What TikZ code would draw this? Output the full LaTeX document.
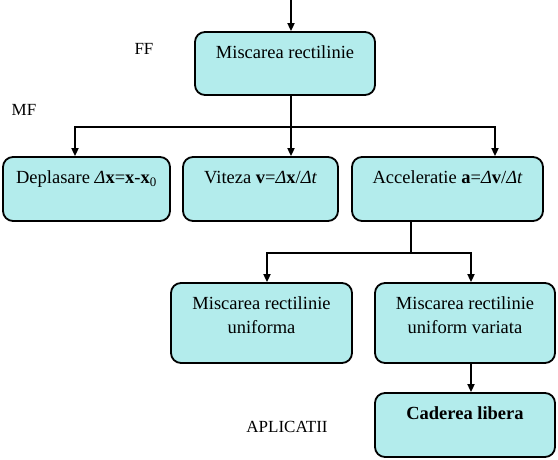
\documentclass[tikz,border=0pt]{standalone}
\usepackage{fontspec}
\setmainfont{Liberation Serif}
\usetikzlibrary{arrows.meta,positioning}
\definecolor{boxcyan}{RGB}{179,236,236}
\begin{document}
\begin{tikzpicture}[x=1pt,y=-1pt,line width=1.8pt,
  box/.style={draw,fill=boxcyan,rounded corners=10pt,inner sep=0pt},
  txt/.style={inner sep=0pt,align=center,font=\fontsize{18.5}{24}\selectfont},
  lbl/.style={inner sep=0pt,font=\fontsize{17}{20}\selectfont},
  arr/.style={-{Triangle[length=8pt,width=7pt]}}]
  \useasboundingbox (0,0) rectangle (558,460);
  \node[box,minimum width=180pt,minimum height=63pt] (mr) at (285,63.5) {};
  \node[box,minimum width=167pt,minimum height=64pt] (dep) at (86.5,189) {};
  \node[box,minimum width=155pt,minimum height=64pt] (vit) at (260.5,189) {};
  \node[box,minimum width=191pt,minimum height=64pt] (acc) at (447.5,189) {};
  \node[box,minimum width=181pt,minimum height=80pt] (unif) at (261.5,323) {};
  \node[box,minimum width=180pt,minimum height=80pt] (var) at (465,323) {};
  \node[box,minimum width=180pt,minimum height=64pt] (cad) at (465,425) {};
  \node[txt,below=10pt of mr.north] (mrt) {\strut Miscarea rectilinie};
  \node[txt,below=10pt of dep.north] (dept)
    {\strut Deplasare {\itshape Δ}\textbf{x}=\textbf{x}-\textbf{x}\textsubscript{0}};
  \node[txt,below=10pt of vit.north] (vitt)
    {\strut Viteza \textbf{v}={\itshape Δ}\textbf{x}/{\itshape Δt}};
  \node[txt,below=10pt of acc.north] (acct)
    {\strut Acceleratie \textbf{a}={\itshape Δ}\textbf{v}/{\itshape Δt}};
  \node[txt,below=10pt of unif.north] (unift) {\strut Miscarea rectilinie\\uniforma};
  \node[txt,below=10pt of var.north] (vart) {\strut Miscarea rectilinie\\uniform variata};
  \node[txt,below=10pt of cad.north] (cadt) {\strut\bfseries Caderea libera};
  \node[lbl] (ff) at (144,49) {FF};
  \node[lbl] (mf) at (24,110) {MF};
  \node[lbl] (apl) at (287,427) {APLICATII};
  \coordinate (in) at (291,0);
  \coordinate (j1) at (291,127);
  \coordinate (k1) at (75,127);
  \coordinate (k3) at (495,127);
  \coordinate (j2) at (411,253);
  \coordinate (k4) at (267,253);
  \coordinate (k5) at (471,253);
  \draw[arr] (in) -- (in |- mr.north);
  \draw[arr] (j1 |- mr.south) -- (j1 |- vit.north);
  \draw[arr] (j1) -- (k1) -- (k1 |- dep.north);
  \draw[arr] (j1) -- (k3) -- (k3 |- acc.north);
  \draw (j2 |- acc.south) -- (j2);
  \draw[arr] (j2) -- (k4) -- (k4 |- unif.north);
  \draw[arr] (j2) -- (k5) -- (k5 |- var.north);
  \draw[arr] (k5 |- var.south) -- (k5 |- cad.north);
\end{tikzpicture}
\end{document}
